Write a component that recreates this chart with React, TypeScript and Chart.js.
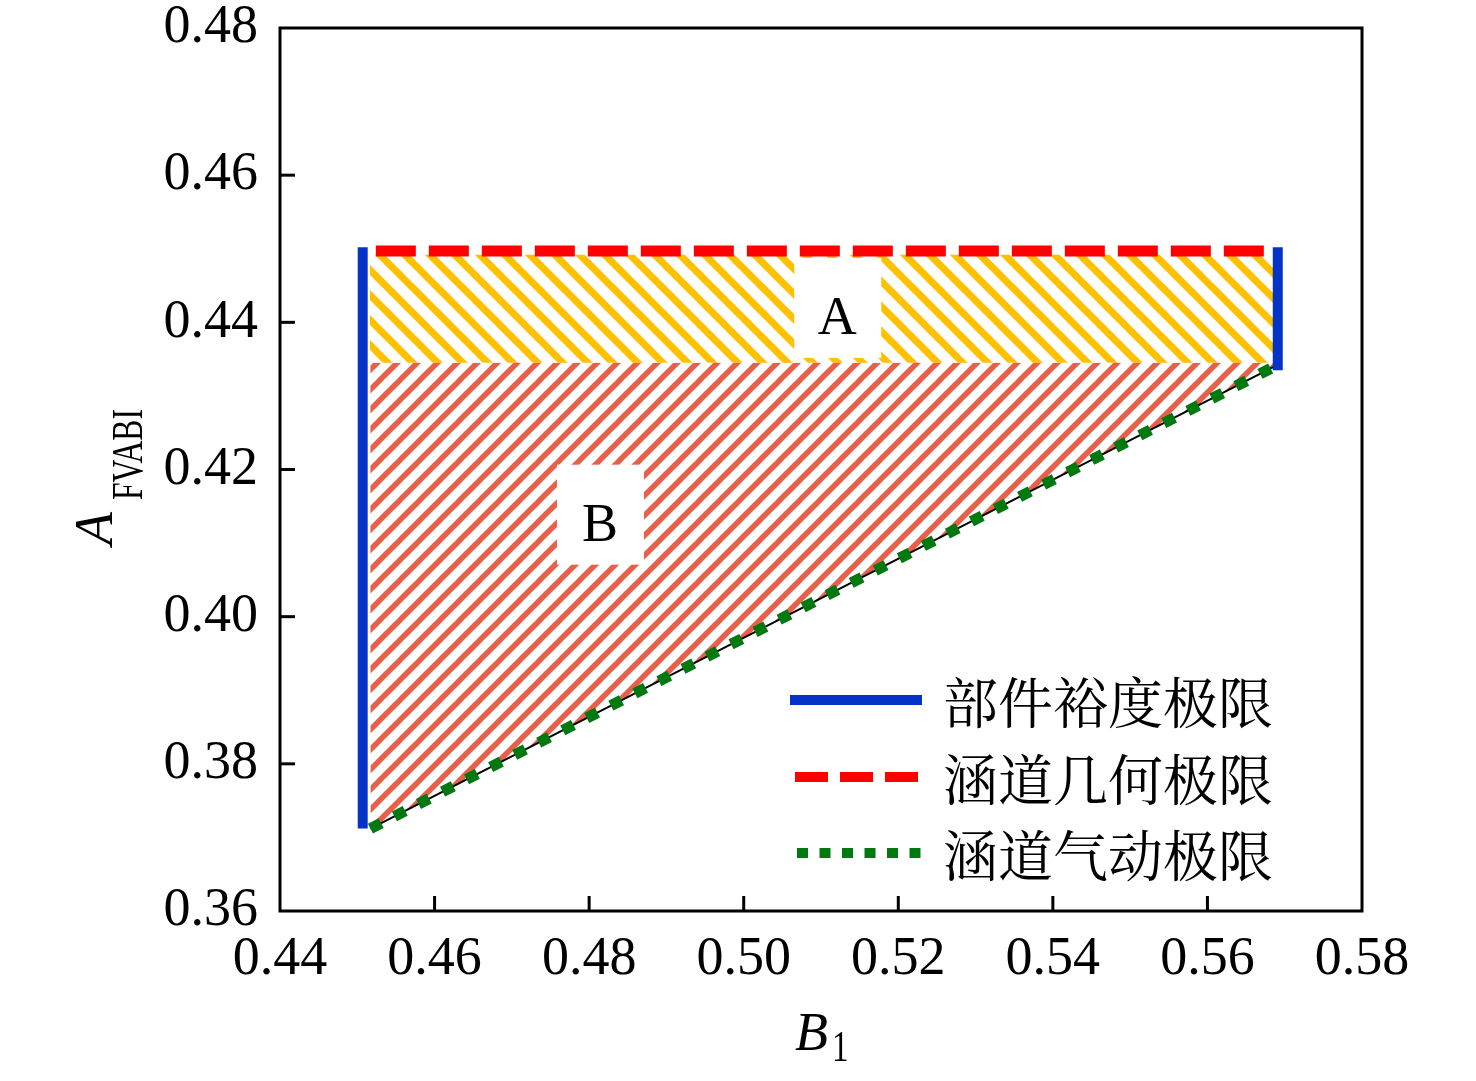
import { useEffect, useRef } from "react"
import { Chart, registerables } from "chart.js"

Chart.register(...registerables)

// axis ranges and tick labels
const xTicks = [0.44, 0.46, 0.48, 0.5, 0.52, 0.54, 0.56, 0.58]
const yTicks = [0.36, 0.38, 0.4, 0.42, 0.44, 0.46, 0.48]

// component margin limit (blue, two vertical pieces)
const blueLeftX = [0.4507, 0.4507]
const blueLeftY = [0.3712, 0.4502]
const blueRightX = [0.5691, 0.5691]
const blueRightY = [0.4335, 0.4502]

// duct geometry limit (red dashed)
const redX = [0.4524, 0.5686]
const redY = [0.4497, 0.4497]

// duct aerodynamic limit (green dotted)
const greenX = [0.4517, 0.5685]
const greenY = [0.3712, 0.4339]

// region A (top) and region B (triangle) boundaries
const regionX = [0.4516, 0.5685]
const regionATop = [0.4492, 0.4492]
const regionMid = [0.4345, 0.4345]

// region labels
const regionLabels = ["A", "B"]
const regionLabelX = [0.5121, 0.4814]
const regionLabelY = [0.4406, 0.4125]

const legendLabels = ["部件裕度极限", "涵道几何极限", "涵道气动极限"]

const serif = "'Liberation Serif', 'Times New Roman', serif"
const cjk = "'Noto Serif CJK SC', 'Noto Sans CJK SC', serif"

const toPoints = (xs: number[], ys: number[]) => xs.map((x, i) => ({ x, y: ys[i] }))

function makeHatch(color: string, dir: 1 | -1, size: number, width: number) {
  const c = document.createElement("canvas")
  c.width = size
  c.height = size
  const g = c.getContext("2d")!
  g.fillStyle = "#ffffff"
  g.fillRect(0, 0, size, size)
  g.strokeStyle = color
  g.lineWidth = width
  g.lineCap = "square"
  for (let k = -1; k <= 1; k++) {
    g.beginPath()
    if (dir === 1) {
      // "\" stripes
      g.moveTo(k * size, 0)
      g.lineTo(k * size + size, size)
    } else {
      // "/" stripes
      g.moveTo(k * size, size)
      g.lineTo(k * size + size, 0)
    }
    g.stroke()
  }
  return g.createPattern(c, "repeat")!
}

const framePlugin = {
  id: "frame",
  afterDatasetsDraw(chart: any) {
    const { ctx, chartArea } = chart
    const xs = chart.scales.x
    const ys = chart.scales.y
    ctx.save()

    // region labels with white boxes
    regionLabels.forEach((t, i) => {
      const px = xs.getPixelForValue(regionLabelX[i])
      const py = ys.getPixelForValue(regionLabelY[i])
      ctx.fillStyle = "#ffffff"
      ctx.fillRect(px - 43, py - 60, 87, 100)
      ctx.fillStyle = "#000000"
      ctx.font = `54px ${serif}`
      ctx.textAlign = "center"
      ctx.textBaseline = "middle"
      ctx.fillText(t, px, py + 2)
    })

    // frame
    ctx.strokeStyle = "#000000"
    ctx.lineWidth = 3
    ctx.strokeRect(chartArea.left, chartArea.top, chartArea.right - chartArea.left, chartArea.bottom - chartArea.top)

    // inward ticks on bottom and left
    xTicks.slice(1, -1).forEach((v) => {
      const px = xs.getPixelForValue(v)
      ctx.beginPath()
      ctx.moveTo(px, chartArea.bottom)
      ctx.lineTo(px, chartArea.bottom - 15)
      ctx.stroke()
    })
    yTicks.slice(1, -1).forEach((v) => {
      const py = ys.getPixelForValue(v)
      ctx.beginPath()
      ctx.moveTo(chartArea.left, py)
      ctx.lineTo(chartArea.left + 15, py)
      ctx.stroke()
    })

    // legend
    const lx0 = chartArea.left + 512
    const lx1 = chartArea.left + 642
    const rows = [chartArea.top + 672, chartArea.top + 749, chartArea.top + 825]
    ctx.lineCap = "butt"
    ctx.strokeStyle = "#0433c8"
    ctx.lineWidth = 10
    ctx.setLineDash([])
    ctx.beginPath()
    ctx.moveTo(lx0 - 2, rows[0])
    ctx.lineTo(lx1, rows[0])
    ctx.stroke()
    ctx.strokeStyle = "#ff0000"
    ctx.setLineDash([33, 12])
    ctx.beginPath()
    ctx.moveTo(lx0 + 3, rows[1])
    ctx.lineTo(lx1, rows[1])
    ctx.stroke()
    ctx.strokeStyle = "#007a10"
    ctx.setLineDash([11, 11.5])
    ctx.beginPath()
    ctx.moveTo(lx0 + 5, rows[2])
    ctx.lineTo(lx1, rows[2])
    ctx.stroke()
    ctx.setLineDash([])
    ctx.fillStyle = "#000000"
    ctx.font = `55px ${cjk}`
    ctx.textAlign = "left"
    ctx.textBaseline = "middle"
    legendLabels.forEach((t, i) => ctx.fillText(t, chartArea.left + 663, rows[i] + 2))

    // x title: B with subscript 1
    ctx.textBaseline = "alphabetic"
    ctx.font = `italic 54px ${serif}`
    ctx.fillText("B", 795, 1050)
    ctx.save()
    ctx.translate(832, 1061)
    ctx.scale(0.75, 1)
    ctx.font = `44px ${serif}`
    ctx.fillText("1", 0, 0)
    ctx.restore()

    // y title: A with subscript FVABI, rotated
    ctx.save()
    ctx.translate(112, 545)
    ctx.rotate(-Math.PI / 2)
    ctx.font = `italic 54px ${serif}`
    ctx.fillText("A", 0, 0)
    ctx.translate(45, 30)
    ctx.scale(0.72, 1)
    ctx.font = `44px ${serif}`
    ctx.fillText("FVABI", 0, 0)
    ctx.restore()

    ctx.restore()
  },
}

function LimitChart() {
  const chartRef = useRef<HTMLCanvasElement>(null)
  const chartInstance = useRef<Chart | null>(null)

  useEffect(() => {
    if (!chartRef.current) return
    if (chartInstance.current) chartInstance.current.destroy()
    const ctx = chartRef.current.getContext("2d")
    if (!ctx) return

    const hatchA = makeHatch("#ffc000", 1, 25, 7)
    const hatchB = makeHatch("#e8604a", -1, 20, 5.5)

    chartInstance.current = new Chart(ctx, {
      type: "line",
      data: {
        datasets: [
          {
            label: "blueLeft",
            data: toPoints(blueLeftX, blueLeftY),
            borderColor: "#0433c8",
            borderWidth: 10,
            pointRadius: 0,
            fill: false,
            borderCapStyle: "butt",
          },
          {
            label: "blueRight",
            data: toPoints(blueRightX, blueRightY),
            borderColor: "#0433c8",
            borderWidth: 10,
            pointRadius: 0,
            fill: false,
            borderCapStyle: "butt",
          },
          {
            label: legendLabels[1],
            data: toPoints(redX, redY),
            borderColor: "#ff0000",
            borderWidth: 11,
            borderDash: [40, 13],
            pointRadius: 0,
            fill: false,
            borderCapStyle: "butt",
          },
          {
            label: legendLabels[2],
            data: toPoints(greenX, greenY),
            borderColor: "#007a10",
            borderWidth: 11,
            borderDash: [12, 15],
            pointRadius: 0,
            fill: false,
            borderCapStyle: "butt",
          },
          {
            label: "boundary",
            data: toPoints(greenX, greenY),
            borderColor: "#000000",
            borderWidth: 2,
            pointRadius: 0,
            fill: false,
          },
          {
            label: "A",
            data: toPoints(regionX, regionATop),
            borderWidth: 0,
            borderColor: "rgba(0,0,0,0)",
            pointRadius: 0,
            backgroundColor: hatchA,
            fill: "+1",
          },
          {
            label: "B",
            data: toPoints(regionX, regionMid),
            borderWidth: 0,
            borderColor: "rgba(0,0,0,0)",
            pointRadius: 0,
            backgroundColor: hatchB,
            fill: 4,
          },
        ],
      },
      options: {
        responsive: true,
        maintainAspectRatio: false,
        animation: false,
        devicePixelRatio: 1,
        layout: { padding: { left: 0, top: 28, right: 114, bottom: 0 } },
        plugins: { legend: { display: false }, tooltip: { enabled: false } },
        scales: {
          x: {
            type: "linear",
            min: 0.44,
            max: 0.58,
            afterBuildTicks: (s: any) => {
              s.ticks = xTicks.map((v) => ({ value: v }))
            },
            afterFit: (s: any) => {
              s.height = 170
              s.paddingLeft = 0
              s.paddingRight = 0
            },
            ticks: {
              callback: (v: any) => Number(v).toFixed(2),
              font: { family: serif, size: 54 },
              color: "#000000",
              padding: 16,
              maxRotation: 0,
              autoSkip: false,
            },
            grid: { display: false, drawTicks: false },
            border: { display: false },
          },
          y: {
            type: "linear",
            min: 0.36,
            max: 0.48,
            afterBuildTicks: (s: any) => {
              s.ticks = yTicks.map((v) => ({ value: v }))
            },
            afterFit: (s: any) => {
              s.width = 280
              s.paddingTop = 0
              s.paddingBottom = 0
            },
            ticks: {
              callback: (v: any) => Number(v).toFixed(2),
              font: { family: serif, size: 54 },
              color: "#000000",
              padding: 22,
              autoSkip: false,
            },
            grid: { display: false, drawTicks: false },
            border: { display: false },
          },
        },
      },
      plugins: [framePlugin],
    })

    return () => {
      if (chartInstance.current) {
        chartInstance.current.destroy()
        chartInstance.current = null
      }
    }
  }, [])

  return (
    <div style={{ position: "fixed", left: 0, top: 0, width: 1476, height: 1081, background: "#ffffff" }}>
      <canvas ref={chartRef} />
    </div>
  )
}

export default function App() {
  return <LimitChart />
}
